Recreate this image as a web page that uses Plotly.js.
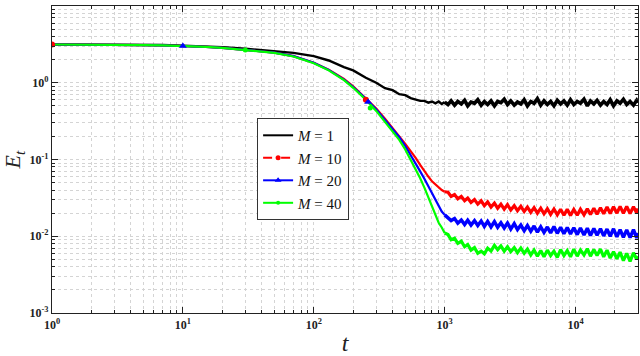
<!DOCTYPE html>
<html>
<head>
<meta charset="utf-8">
<script src="https://cdn.plot.ly/plotly-3.0.1.min.js"></script>
<style>
  html, body { margin: 0; padding: 0; background: #fff; }
  #chart { width: 640px; height: 356px; }
</style>
</head>
<body>
<div id="chart"></div>
<script>
// time grid (shared by all runs)
var tEarly = [1, 2, 3, 5, 7, 10, 15, 20, 30, 50, 70, 100, 130, 170, 200, 250, 300, 350, 400, 450,
  500, 550, 600, 650, 700, 750, 800, 850, 900, 950, 1000];
var tLate = [1000, 1060, 1120, 1190, 1260, 1340, 1420, 1500, 1590, 1690, 1790, 1900, 2010, 2130, 2260, 2400,
  2540, 2690, 2850, 3020, 3200, 3400, 3600, 3820, 4050, 4290, 4550, 4820, 5110, 5420, 5740,
  6090, 6450, 6840, 7250, 7690, 8150, 8640, 9150, 9700, 10300, 10900, 11600, 12300, 13000, 13800,
  14600, 15500, 16400, 17400, 18400, 19500, 20700, 21900, 23200, 24600, 26100, 27700, 29300, 30000];

// E_t, M = 1
var e1Early = [3.15, 3.15, 3.14, 3.12, 3.1, 3.05, 2.98, 2.9, 2.78, 2.6, 2.45, 2.22, 1.95, 1.6, 1.45,
  1.16, 1.0, 0.85, 0.8, 0.71, 0.69, 0.63, 0.61, 0.58, 0.58, 0.55, 0.57, 0.54, 0.57, 0.53, 0.56];
var e1Late = [0.56, 0.52, 0.58, 0.51, 0.57, 0.53, 0.59, 0.50, 0.56, 0.54, 0.60, 0.51, 0.57, 0.52, 0.58, 0.50,
  0.57, 0.55, 0.61, 0.52, 0.58, 0.51, 0.56, 0.53, 0.60, 0.50, 0.57, 0.54, 0.62, 0.51, 0.58,
  0.52, 0.57, 0.50, 0.59, 0.53, 0.58, 0.51, 0.60, 0.52, 0.57, 0.54, 0.61, 0.50, 0.58, 0.53,
  0.59, 0.51, 0.57, 0.52, 0.60, 0.50, 0.58, 0.54, 0.61, 0.52, 0.57, 0.51, 0.59, 0.55];

// M = 10
var e10Early = [3.15, 3.15, 3.13, 3.1, 3.07, 3.02, 2.94, 2.85, 2.7, 2.47, 2.22, 1.82, 1.48, 1.12, 0.9,
  0.62, 0.46, 0.34, 0.26, 0.2, 0.16, 0.13, 0.105, 0.085, 0.07, 0.06, 0.052, 0.047, 0.043, 0.040, 0.038];
var e10Late = [0.038, 0.0375, 0.0330, 0.0350, 0.0308, 0.0330, 0.0290, 0.0315, 0.0275, 0.0300, 0.0262,
  0.0290, 0.0250, 0.0280, 0.0240, 0.0270, 0.0232, 0.0262, 0.0225, 0.0258, 0.0220,
  0.0250, 0.0215, 0.0245, 0.0210, 0.0240, 0.0205, 0.0236, 0.0200, 0.0232, 0.0196,
  0.0228, 0.0193, 0.0226, 0.0190, 0.0225, 0.0188, 0.0224, 0.0187, 0.0223, 0.0188,
  0.0225, 0.0190, 0.0228, 0.0192, 0.0232, 0.0194, 0.0236, 0.0196, 0.0240, 0.0198,
  0.0243, 0.0200, 0.0245, 0.0199, 0.0244, 0.0198, 0.0243, 0.0200, 0.0230];

// M = 20
var e20Early = [3.15, 3.15, 3.13, 3.1, 3.07, 3.02, 2.94, 2.85, 2.7, 2.47, 2.22, 1.82, 1.47, 1.1, 0.88,
  0.62, 0.45, 0.33, 0.25, 0.195, 0.15, 0.115, 0.09, 0.07, 0.056, 0.045, 0.036, 0.03, 0.025, 0.021, 0.019];
var e20Late = [0.019, 0.0172, 0.0160, 0.0170, 0.0148, 0.0163, 0.0142, 0.0162, 0.0140, 0.0160, 0.0138,
  0.0158, 0.0134, 0.0156, 0.0132, 0.0155, 0.0131, 0.0150, 0.0128, 0.0149, 0.0124,
  0.0146, 0.0122, 0.0140, 0.0118, 0.0138, 0.0116, 0.0136, 0.0113, 0.0133, 0.0112,
  0.0132, 0.0110, 0.0134, 0.0109, 0.0131, 0.0108, 0.0130, 0.0107, 0.0129, 0.0105,
  0.0128, 0.0104, 0.0127, 0.0102, 0.0126, 0.0103, 0.0125, 0.0101, 0.0124, 0.0100,
  0.0125, 0.0098, 0.0122, 0.0097, 0.0121, 0.0096, 0.0122, 0.0095, 0.0110];

// M = 40
var e40Early = [3.15, 3.15, 3.13, 3.1, 3.07, 3.02, 2.93, 2.84, 2.68, 2.45, 2.2, 1.8, 1.45, 1.08, 0.86,
  0.6, 0.43, 0.31, 0.235, 0.18, 0.135, 0.1, 0.075, 0.057, 0.043, 0.032, 0.024, 0.019, 0.015, 0.013, 0.011];
var e40Late = [0.011, 0.0105, 0.0090, 0.0094, 0.0081, 0.0086, 0.0073, 0.0078, 0.0066, 0.0071, 0.0060,
  0.0064, 0.0059, 0.0070, 0.0064, 0.0076, 0.0067, 0.0075, 0.0064, 0.0073, 0.0063,
  0.0071, 0.0061, 0.0070, 0.0060, 0.0068, 0.0057, 0.0066, 0.0055, 0.0065, 0.0054,
  0.0066, 0.0056, 0.0064, 0.0053, 0.0067, 0.0056, 0.0065, 0.0054, 0.0068, 0.0055,
  0.0066, 0.0057, 0.0069, 0.0055, 0.0067, 0.0056, 0.0068, 0.0054, 0.0066, 0.0052,
  0.0063, 0.0051, 0.0062, 0.0048, 0.0060, 0.0047, 0.0061, 0.0050, 0.0055];

// sparse marker points
var mk10T = [1, 250], mk10E = [3.15, 0.6];
var mk20T = [10, 260], mk20E = [3.02, 0.56];
var mk40T = [30, 270], mk40E = [2.68, 0.47];

var names = ["<i>M</i> = 1", "<i>M</i> = 10", "<i>M</i> = 20", "<i>M</i> = 40"];
var xTickVals = [1, 10, 100, 1000, 10000];
var xTickText = ["10<sup>0</sup>", "10<sup>1</sup>", "10<sup>2</sup>", "10<sup>3</sup>", "10<sup>4</sup>"];
var yTickVals = [0.001, 0.01, 0.1, 1, 10];
var yTickText = ["10<sup>-3</sup>", "10<sup>-2</sup>", "10<sup>-1</sup>", "10<sup>0</sup>", "10<sup>1</sup>"];

function line(x, y, color, w) {
  return {x: x, y: y, type: "scatter", mode: "lines", showlegend: false,
    line: {color: color, width: w}, hoverinfo: "skip"};
}
function marks(x, y, color, symbol, size) {
  return {x: x, y: y, type: "scatter", mode: "markers", showlegend: false,
    marker: {color: color, symbol: symbol, size: size}, hoverinfo: "skip"};
}
function key(name, color, dash, symbol, size) {
  return {x: [null], y: [null], type: "scatter", name: name,
    mode: symbol ? "lines+markers" : "lines",
    line: {color: color, width: 2, dash: dash},
    marker: {color: color, symbol: symbol || "circle", size: size || 6}};
}

var data = [
  line(tEarly, e1Early, "#000000", 2.4),
  line(tLate, e1Late, "#000000", 3.6),
  line(tEarly, e10Early, "#ff0000", 2.2),
  line(tLate, e10Late, "#ff0000", 3.2),
  line(tEarly, e20Early, "#0000ff", 2.2),
  line(tLate, e20Late, "#0000ff", 3.4),
  line(tEarly, e40Early, "#00ff00", 2.2),
  line(tLate, e40Late, "#00ff00", 3.2),
  marks(mk10T, mk10E, "#ff0000", "circle", 6),
  marks(mk20T, mk20E, "#0000ff", "triangle-up", 7),
  marks(mk40T, mk40E, "#00ff00", "circle", 5),
  key(names[0], "#000000", "solid"),
  key(names[1], "#ff0000", "dash", "circle", 5),
  key(names[2], "#0000ff", "solid", "triangle-up", 6),
  key(names[3], "#00ff00", "solid", "circle", 4)
];

var grid = "#d4d4d4";
var axisCommon = {
  type: "log",
  tickmode: "array",
  showline: true, linecolor: "#222", linewidth: 1.2, mirror: "allticks",
  ticks: "inside", ticklen: 6, tickcolor: "#222",
  showgrid: true, gridcolor: grid, griddash: "dot", gridwidth: 1,
  zeroline: false,
  minor: {ticks: "inside", ticklen: 3, tickcolor: "#222", dtick: "D1",
    showgrid: true, gridcolor: grid, griddash: "dot", gridwidth: 1},
  tickfont: {family: "Liberation Serif", size: 12, color: "#222", weight: "bold"}
};

var layout = {
  width: 640, height: 356,
  margin: {l: 52, r: 2, t: 6, b: 43},
  paper_bgcolor: "#fff", plot_bgcolor: "#fff",
  xaxis: Object.assign({}, axisCommon, {
    range: [0, Math.log10(30000)],
    tickvals: xTickVals, ticktext: xTickText,
    title: {text: "<i>t</i>", font: {family: "Liberation Serif", size: 24, color: "#222"}, standoff: 6}
  }),
  yaxis: Object.assign({}, axisCommon, {
    range: [-3, 1],
    tickvals: yTickVals, ticktext: yTickText,
    title: {text: "<i>E</i><sub><i>t</i></sub>", font: {family: "Liberation Serif", size: 22, color: "#222"}, standoff: 8}
  }),
  legend: {
    x: 0.35, y: 0.635, xanchor: "left", yanchor: "top",
    bgcolor: "#fff", bordercolor: "#333", borderwidth: 1,
    font: {family: "Liberation Serif", size: 15, color: "#111"},
    tracegroupgap: 0, itemwidth: 30
  },
  showlegend: true
};

Plotly.newPlot("chart", data, layout, {displayModeBar: false, staticPlot: true});
</script>
</body>
</html>
